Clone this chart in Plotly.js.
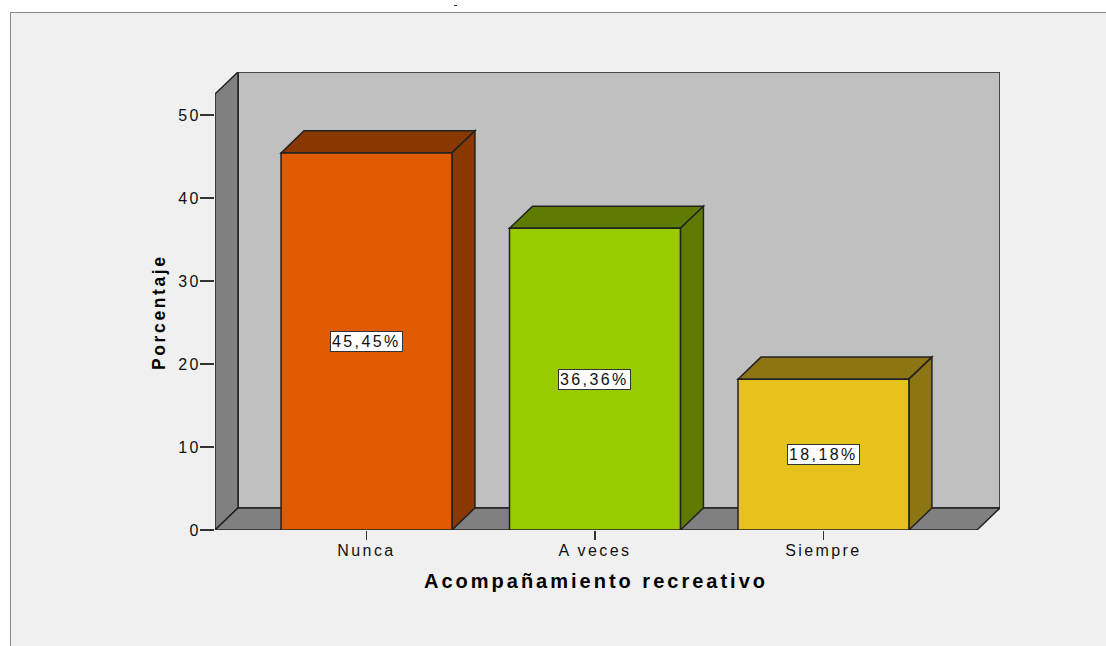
<!DOCTYPE html>
<html>
<head>
<meta charset="utf-8">
<script src="https://cdn.plot.ly/plotly-3.0.1.min.js"></script>
<style>
  html, body { margin: 0; padding: 0; background: #ffffff; width: 1106px; height: 646px; overflow: hidden; }
  #frame { position: absolute; left: 10px; top: 12px; width: 1100px; height: 700px;
           border-top: 1px solid #8a8a8a; border-left: 1px solid #8a8a8a; box-sizing: border-box; background: #f0f0f0; }
  #chart { position: absolute; left: 0; top: 0; }
  #dash { position: absolute; left: 454px; top: 5px; width: 3px; height: 1px; background: #333; }
  svg text { letter-spacing: 0.15em; }
</style>
</head>
<body>
<div id="dash"></div>
<div id="frame"><div id="chart"></div></div>
<script>
// ---- data ----
const categories = ["Nunca", "A veces", "Siempre"];
const percentages = [45.45, 36.36, 18.18];
const frontColors = ["#E05A00", "#99CC00", "#E6C21D"];
const shadeColors = ["#883800", "#5F7A00", "#8E7514"];
const yTickValues = [0, 10, 20, 30, 40, 50];
const xTitle = "Acompañamiento recreativo";
const yTitle = "Porcentaje";

// ---- 3D frame geometry (in axis units) ----
const barWidth = 0.748;
const xLeft = -0.663;        // front-left corner of floor
const xFrontRight = 2.672;   // front-right corner of floor
const depthX = 0.1007;       // horizontal depth offset
const depthY = 2.657;        // vertical depth offset
const wallTop = 52.54;       // front top of walls
const xIdx = categories.map((c, i) => i);

const edge = { color: "#222222", width: 1.5 };
const shapes = [];
// back wall
shapes.push({ type: "rect", xref: "x", yref: "y", layer: "below",
  x0: xLeft + depthX, x1: xFrontRight + depthX, y0: depthY, y1: wallTop + depthY,
  fillcolor: "#C0C0C0", line: edge });
// left wall
shapes.push({ type: "path", xref: "x", yref: "y", layer: "below",
  path: `M ${xLeft},0 L ${xLeft + depthX},${depthY} L ${xLeft + depthX},${wallTop + depthY} L ${xLeft},${wallTop} Z`,
  fillcolor: "#808080", line: edge });
// floor
shapes.push({ type: "path", xref: "x", yref: "y", layer: "below",
  path: `M ${xLeft},0 L ${xFrontRight},0 L ${xFrontRight + depthX},${depthY} L ${xLeft + depthX},${depthY} Z`,
  fillcolor: "#808080", line: edge });
// bar tops and sides
percentages.forEach((v, i) => {
  const x0 = xIdx[i] - barWidth / 2, x1 = xIdx[i] + barWidth / 2;
  shapes.push({ type: "path", xref: "x", yref: "y", layer: "below",
    path: `M ${x0},${v} L ${x1},${v} L ${x1 + depthX},${v + depthY} L ${x0 + depthX},${v + depthY} Z`,
    fillcolor: shadeColors[i], line: edge });
  shapes.push({ type: "path", xref: "x", yref: "y", layer: "below",
    path: `M ${x1},0 L ${x1 + depthX},${depthY} L ${x1 + depthX},${v + depthY} L ${x1},${v} Z`,
    fillcolor: shadeColors[i], line: edge });
});

const font = "Liberation Sans, Arial, sans-serif";
const annotations = percentages.map((v, i) => ({
  x: xIdx[i], y: v / 2, xref: "x", yref: "y", showarrow: false,
  text: v.toFixed(2).replace(".", ",") + "%",
  font: { family: font, size: 16, color: "#111" },
  bgcolor: "#ffffff", bordercolor: "#333333", borderwidth: 1, borderpad: 1
}));
annotations.push({
  xref: "x", yref: "paper", x: (xLeft + xFrontRight) / 2, y: 0, yanchor: "middle", yshift: -51,
  showarrow: false, text: xTitle, font: { family: font, size: 20, color: "#000", weight: "bold" }
});
annotations.push({
  xref: "paper", yref: "y", x: 0, xshift: -68, y: wallTop / 2, textangle: -90,
  showarrow: false, text: yTitle, font: { family: font, size: 17.5, color: "#000", weight: "bold" }
});

const trace = {
  type: "bar", x: xIdx, y: percentages, width: barWidth,
  marker: { color: frontColors, line: edge },
  hoverinfo: "skip"
};

const layout = {
  width: 1095, height: 633,
  margin: { l: 204, r: 106, t: 59, b: 116, pad: 0 },
  paper_bgcolor: "#f0f0f0", plot_bgcolor: "rgba(0,0,0,0)",
  showlegend: false,
  xaxis: {
    range: [xLeft, xFrontRight + depthX], tickvals: xIdx, ticktext: categories,
    ticks: "outside", ticklen: 9, tickcolor: "#333", tickwidth: 1.5, ticklabelstandoff: -3,
    showgrid: false, zeroline: false, showline: false, fixedrange: true,
    tickfont: { family: font, size: 16, color: "#111" }
  },
  yaxis: {
    range: [0, wallTop + depthY], tickvals: yTickValues,
    ticks: "outside", ticklen: 14, tickcolor: "#333", tickwidth: 1.5, ticklabelstandoff: -4,
    showgrid: false, zeroline: false, showline: false, fixedrange: true,
    tickfont: { family: font, size: 16, color: "#111" }
  },
  shapes: shapes,
  annotations: annotations
};

Plotly.newPlot("chart", [trace], layout, { displayModeBar: false, staticPlot: true });
</script>
</body>
</html>
